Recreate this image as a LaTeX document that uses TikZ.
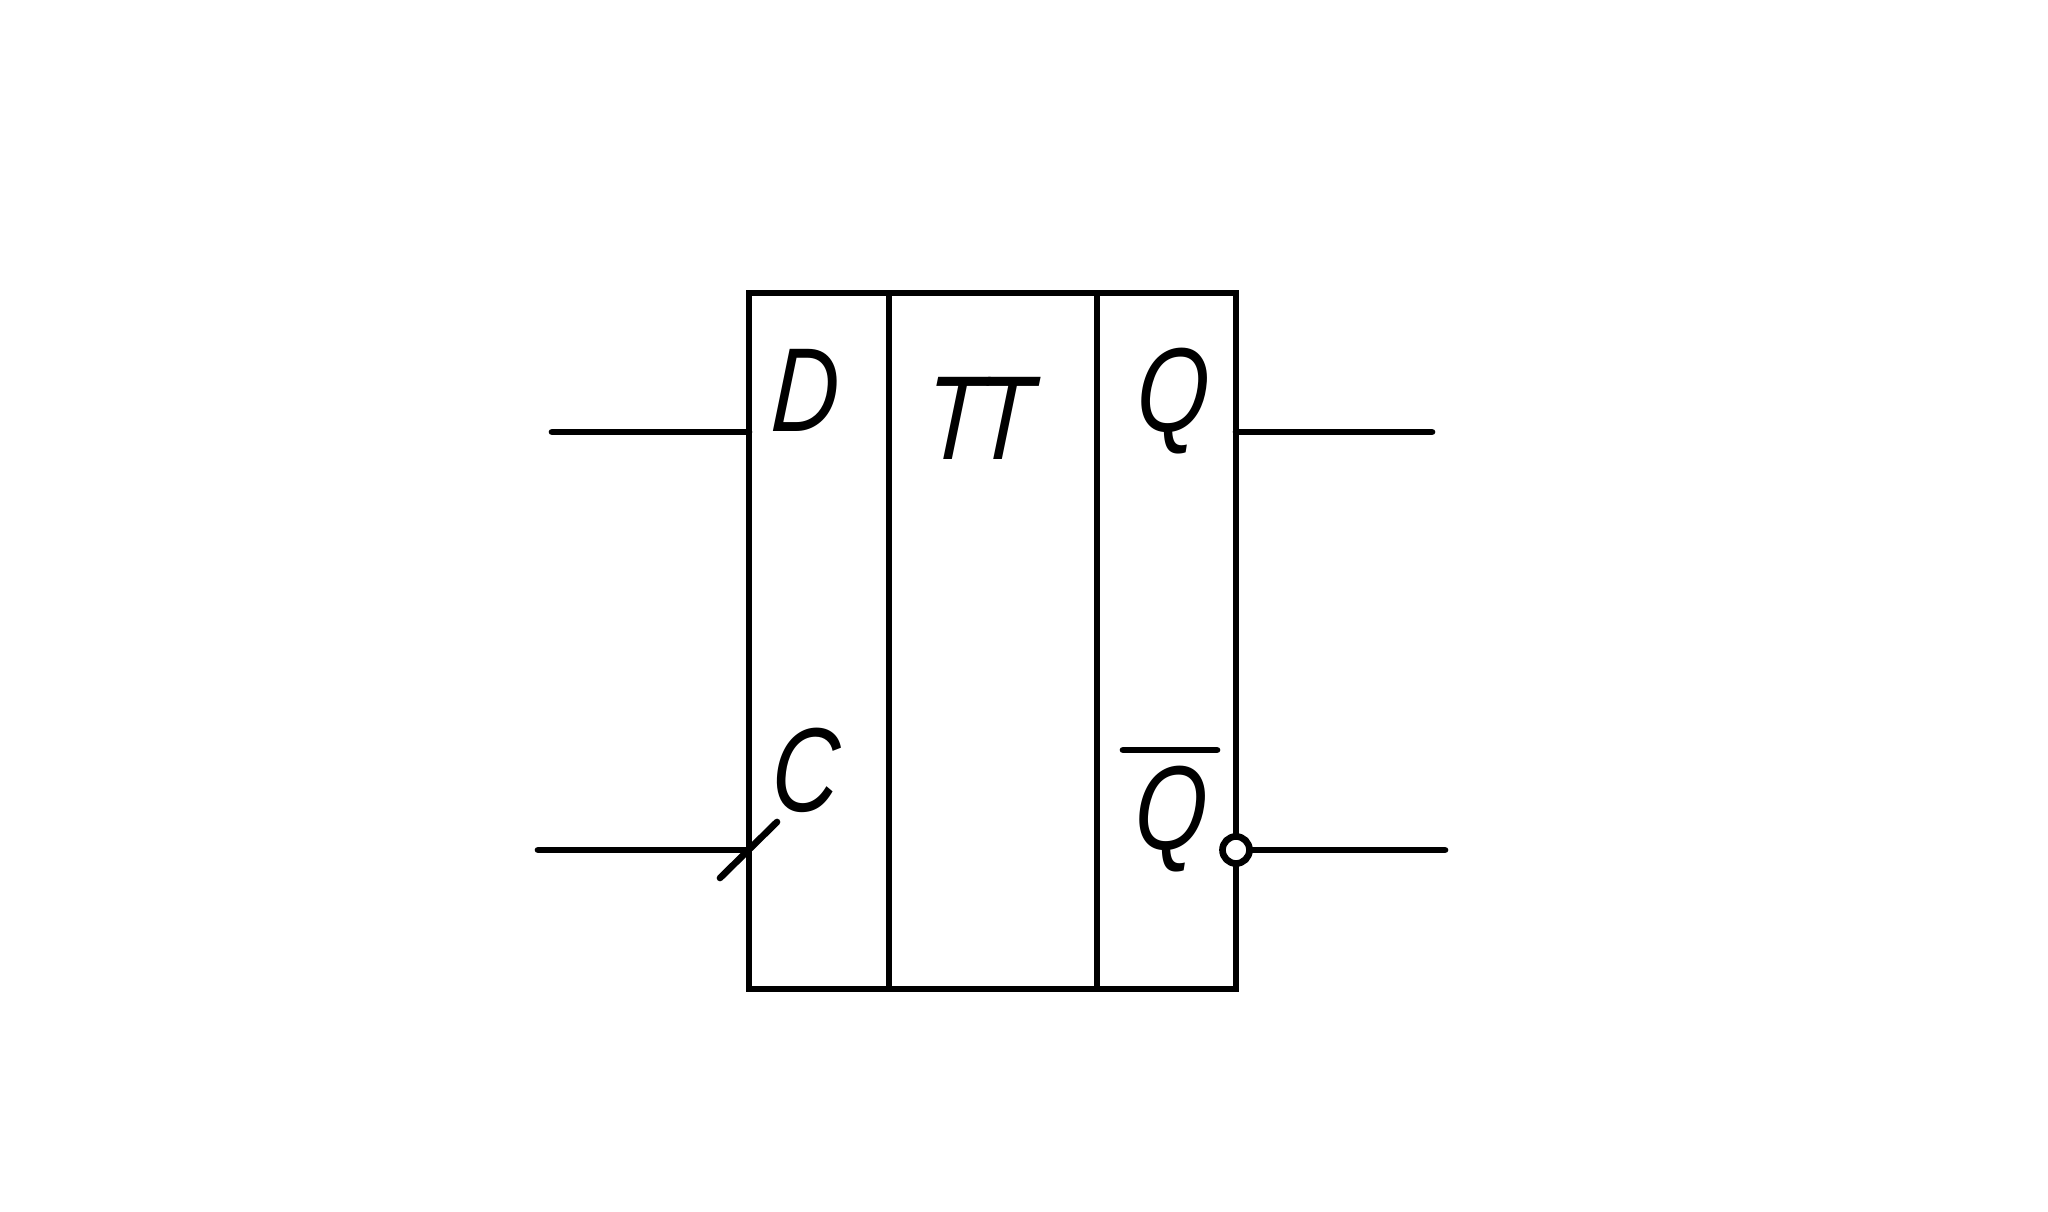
\documentclass[tikz,border=0pt]{standalone}
\usepackage{fontspec}
\setmainfont{Liberation Sans}
\usetikzlibrary{positioning}

\begin{document}
\begin{tikzpicture}[line width = 1.9pt,
	wire/.style = {line cap = round},
	label/.style = {inner sep = 0, anchor = base west, font = \itshape\fontsize{33}{33}\selectfont, transform shape, xscale = 0.8, yscale = 1.03, xslant = 0.07},
	inv/.style = {draw, circle, fill = white, inner sep = 0, minimum size = 0.27cm}]
		\useasboundingbox (0,0) rectangle (20.48,12.12);
		\coordinate (nw) at (7.49, 9.19);
		\coordinate (ne) at (12.36, 9.19);
		\coordinate (sw) at (7.49, 2.23);
		\coordinate (se) at (12.36, 2.23);
		\coordinate (t1) at (8.89, 9.19);
		\coordinate (b1) at (8.89, 2.23);
		\coordinate (t2) at (10.97, 9.19);
		\coordinate (b2) at (10.97, 2.23);
		\coordinate (dpin) at (7.49, 7.80);
		\coordinate (cpin) at (7.49, 3.62);
		\coordinate (qpin) at (12.36, 7.80);
		\coordinate (din) at (5.52, 7.80);
		\coordinate (cin) at (5.38, 3.62);
		\coordinate (qout) at (14.32, 7.80);
		\coordinate (nout) at (14.45, 3.62);
		\coordinate (ticka) at (7.20, 3.34);
		\coordinate (tickb) at (7.77, 3.90);
		\coordinate (bara) at (11.23, 4.62);
		\coordinate (barb) at (12.17, 4.62);
		\draw (nw) -- (ne) -- (se) -- (sw) -- cycle;
		\draw (t1) -- (b1);
		\draw (t2) -- (b2);
		\draw[wire] (din) -- (dpin);
		\draw[wire] (cin) -- (cpin);
		\draw[wire] (qout) -- (qpin);
		\draw[wire] (ticka) -- (tickb);
		\draw[wire] (bara) -- (barb);
		\node[inv] (ninv) at (12.36, 3.62) {};
		\draw[wire] (nout) -- (ninv);
		\node[label] (dlabel) at (7.68, 7.80) {D};
		\node[label] (clabel) at (7.68, 4.00) {C};
		\node[label] (ttlabel) at (9.22, 7.52) {T\kern-2.5pt T};
		\node[label] (qlabel) at (11.33, 7.80) {Q};
		\node[label] (nlabel) at (11.31, 3.62) {Q};
\end{tikzpicture}
\end{document}
